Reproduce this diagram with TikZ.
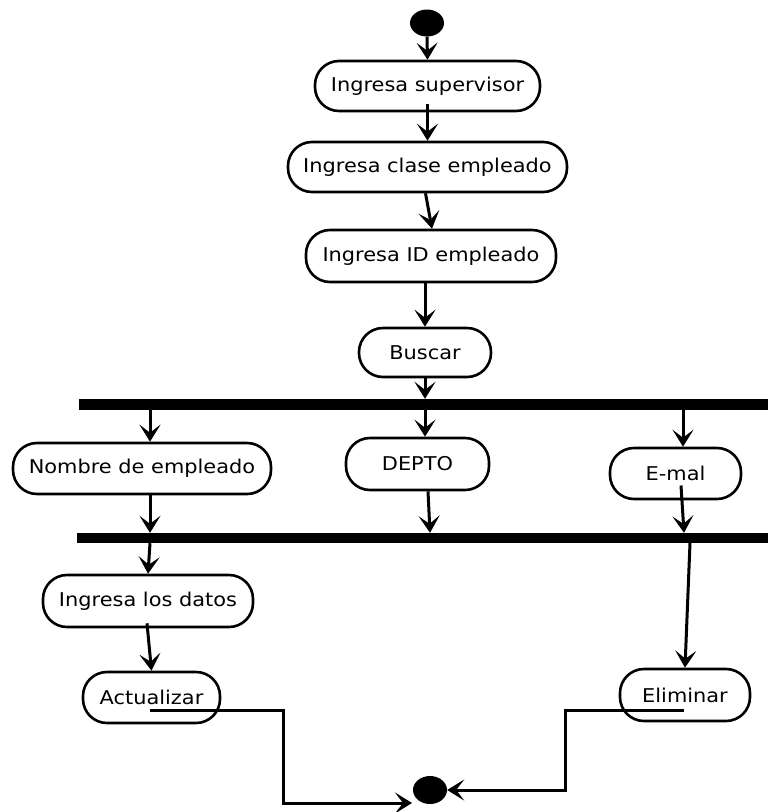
\documentclass[tikz,border=0pt]{standalone}
\usepackage{fontspec}
\setmainfont[FakeStretch=1.1]{DejaVu Sans}
\usetikzlibrary{arrows.meta,shapes.geometric,calc}

\tikzset{
  activity/.style={draw=black, line width=2.6pt, rounded corners=24pt, inner sep=0pt,
    font=\fontsize{19}{22}\selectfont, text=black},
  bar/.style={fill=black, draw=none, inner sep=0pt},
  dot/.style={ellipse, fill=black, draw=none, inner sep=0pt},
  flow/.style={line width=3pt, -{Stealth[length=17pt,width=21pt,inset=8pt]}},
}

\begin{document}
\begin{tikzpicture}[x=1pt,y=-1pt]
\useasboundingbox (0,0) rectangle (768,812);

% initial and final states
\node[dot, minimum width=34pt, minimum height=27pt] (start) at (427,23) {};
\node[dot, minimum width=34pt, minimum height=28pt] (end) at (430,790) {};

% sequential activities
\node[activity, minimum width=225pt, minimum height=50pt] (sup) at (427.5,86) {Ingresa supervisor};
\node[activity, minimum width=279pt, minimum height=50pt] (clase) at (427.5,167) {Ingresa clase empleado};
\node[activity, minimum width=250pt, minimum height=52pt] (idemp) at (431,256) {Ingresa ID empleado};
\node[activity, minimum width=132pt, minimum height=49pt] (buscar) at (425,352.5) {Buscar};

% fork / join bars
\node[bar, minimum width=689pt, minimum height=11pt] (fork) at (423.5,404.5) {};
\node[bar, minimum width=691pt, minimum height=10pt] (join) at (422.5,538) {};

% parallel activities
\node[activity, minimum width=258pt, minimum height=51pt] (nombre) at (142,468.5) {Nombre de empleado};
\node[activity, minimum width=143pt, minimum height=52pt] (depto) at (417.5,464) {DEPTO};
\node[activity, minimum width=131pt, minimum height=51pt] (email) at (675.5,473.5) {E-mal};

% after the join
\node[activity, minimum width=210pt, minimum height=52pt] (datos) at (148,601) {Ingresa los datos};
\node[activity, minimum width=137pt, minimum height=51pt] (actual) at (151.5,697.5) {Actualizar};
\node[activity, minimum width=130pt, minimum height=52pt] (elim) at (685,695) {Eliminar};

% connectors
\draw[flow] (start.south) -- (sup.north);
\draw[flow] ([yshift=8pt]sup.south) -- (clase.north);
\draw[flow] ([xshift=-2pt]clase.south) -- ([xshift=1pt]idemp.north);
\draw[flow] (idemp.south -| buscar.north) -- (buscar.north);
\draw[flow] (buscar.south) -- (buscar.south |- fork.north);

\draw[flow] ([xshift=8pt]nombre.north |- fork.south) -- ([xshift=8pt]nombre.north);
\draw[flow] ([xshift=7.5pt]depto.north |- fork.south) -- ([xshift=7.5pt]depto.north);
\draw[flow] ([xshift=7.5pt]email.north |- fork.south) -- ([xshift=7.5pt]email.north);

\draw[flow] ([xshift=8pt]nombre.south) -- ([xshift=8pt]nombre.south |- join.north);
\draw[flow] ([xshift=10.5pt]depto.south) -- ([xshift=12.5pt]depto.south |- join.north);
\draw[flow] ([xshift=5.5pt,yshift=-12pt]email.center) -- ([xshift=8.5pt]email.south |- join.north);

\draw[flow] ([xshift=2pt]datos.north |- join.south) -- (datos.north);
\draw[flow] ([xshift=-1pt,yshift=5pt]datos.south) -- (actual.north);
\draw[flow] ([xshift=5pt]elim.north |- join.south) -- (elim.north);

% flows into the final state
\coordinate (actout) at ($(actual.center)+(-1.5,12.5)$);
\coordinate (endleft) at ($(end.center)+(-18,13)$);
\draw[flow] (actout) -- ++(133,0) |- (endleft);

\coordinate (elimout) at ($(elim.center)+(-1,15)$);
\draw[flow] (elimout) -- ++(-119,0) |- (end.east);
\end{tikzpicture}
\end{document}
